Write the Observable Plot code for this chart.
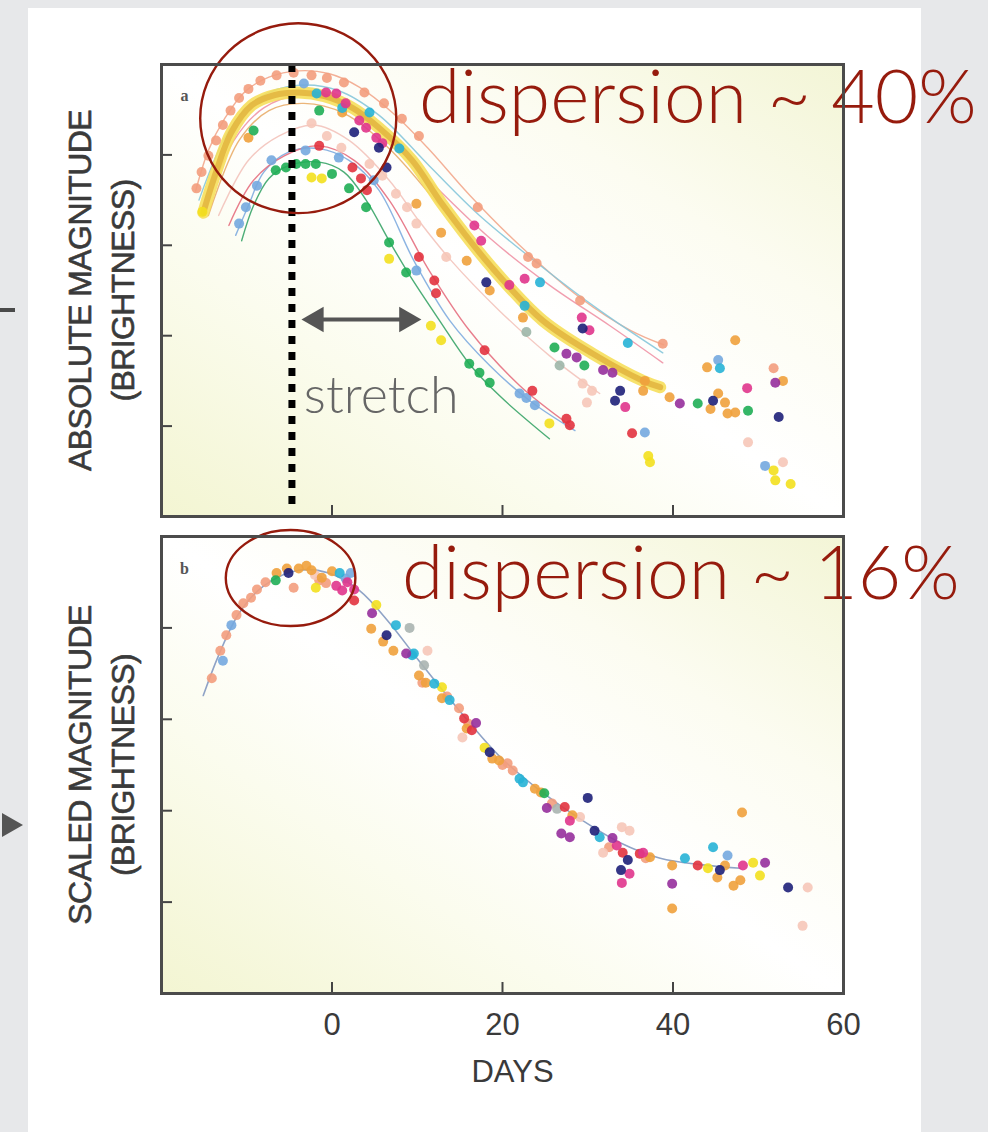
<!DOCTYPE html>
<html><head><meta charset="utf-8">
<script src="https://cdn.jsdelivr.net/npm/d3@7"></script>
<script src="https://cdn.jsdelivr.net/npm/@observablehq/plot@0.6"></script>
<style>
html,body{margin:0;padding:0;}
body{width:988px;height:1132px;background:#e7e8ea;position:relative;overflow:hidden;font-family:"Liberation Sans",Arial,sans-serif;}
#card{position:absolute;left:28px;top:8px;width:893px;height:1124px;background:#fff;}
#pa{position:absolute;left:0;top:0;}
#pb{position:absolute;left:0;top:526px;}
svg{overflow:visible;display:block;}
.dash{position:absolute;left:0;top:308px;width:15px;height:4px;background:#4a4a4a;}
.arrowhead{position:absolute;left:2px;top:813px;width:0;height:0;border-left:21px solid #555;border-top:12px solid transparent;border-bottom:12px solid transparent;}
</style></head><body>
<div id="card"></div><div class="dash"></div><div class="arrowhead"></div>
<div id="pa"></div><div id="pb"></div>
<script>
// ---------- scales / ticks ----------
const xDomain = [-20, 60];
const xTicks = [0, 20, 40, 60];
const yDomain = [-15, -20];           // absolute magnitude, brighter up
const yTicks = [-19, -18, -17, -16];

// ---------- panel a : light curves (fits) [day, magnitude] ----------
const curveSalmon = [[-16.0,-18.6],[-14.5,-19.05],[-12.6,-19.4],[-10.2,-19.7],[-7.4,-19.86],[-3.9,-19.93],[-0.4,-19.9],[3.2,-19.75],[7.3,-19.45],[11.4,-19.06],[16.1,-18.56],[22.0,-18.0],[29.1,-17.42],[35.0,-17.06],[38.9,-16.9]];
const curveCyan = [[-15.6,-18.5],[-12.1,-19.27],[-8.6,-19.63],[-3.9,-19.77],[0.8,-19.71],[5.5,-19.44],[11.4,-18.88],[17.3,-18.33],[24.4,-17.78],[31.4,-17.28],[38.8,-16.81]];
const curvePink = [[-15.1,-18.33],[-11.5,-19.16],[-8.0,-19.52],[-3.9,-19.66],[0.8,-19.6],[5.5,-19.29],[11.4,-18.72],[18.5,-18.08],[25.5,-17.56],[32.6,-17.11],[38.8,-16.7]];
const curveTemplate = [[-15.1,-18.36],[-13.6,-18.81],[-11.8,-19.25],[-9.4,-19.55],[-6.8,-19.66],[-3.9,-19.69],[-0.9,-19.65],[2.4,-19.52],[5.5,-19.3],[9.4,-18.94],[12.9,-18.46],[18.8,-17.75],[24.7,-17.17],[30.6,-16.8],[36.5,-16.5],[38.5,-16.43]];
const curveOrange = [[-14.5,-18.33],[-10.9,-19.16],[-7.4,-19.49],[-3.3,-19.57],[1.4,-19.46],[6.7,-19.07],[12.6,-18.44],[18.5,-17.81],[24.4,-17.22],[31.4,-16.78],[37.3,-16.47]];
const curveLightPink = [[-13.3,-18.33],[-9.8,-18.94],[-6.2,-19.21],[-2.1,-19.33],[2.0,-19.16],[6.7,-18.72],[10.2,-18.27],[13.8,-17.85],[19.6,-17.28],[25.5,-16.78],[31.4,-16.36]];
const curveBlue = [[-11.3,-18.11],[-9.8,-18.44],[-8.0,-18.81],[-5.1,-19.03],[-1.5,-19.07],[2.0,-18.94],[5.5,-18.61],[9.6,-17.83],[13.8,-17.17],[18.5,-16.67],[23.2,-16.28],[28.5,-15.95]];
const curveRed = [[-12.1,-18.22],[-9.2,-18.72],[-5.6,-18.99],[-1.5,-19.1],[2.6,-18.94],[6.7,-18.5],[11.4,-17.72],[16.1,-17.06],[22.0,-16.45],[27.9,-16.01]];
const curveGreen = [[-10.6,-18.05],[-9.2,-18.44],[-7.4,-18.74],[-5.1,-18.88],[-1.5,-18.92],[1.4,-18.81],[4.0,-18.5],[6.7,-18.05],[9.1,-17.67],[12.6,-17.17],[16.1,-16.69],[19.6,-16.34],[25.5,-15.86]];

// ---------- panel a : observations [day, magnitude] ----------
const aSalmon = [[-15.9,-18.63],[-15.3,-18.81],[-14.5,-18.99],[-13.6,-19.16],[-12.8,-19.33],[-11.9,-19.49],[-10.9,-19.63],[-9.8,-19.73],[-8.4,-19.82],[-6.5,-19.88],[-4.5,-19.91],[-2.4,-19.88],[-0.6,-19.85],[1.4,-19.8],[3.8,-19.69],[6.1,-19.57],[8.2,-19.4],[10.2,-19.21],[17.1,-18.42],[23.0,-17.87],[24.0,-17.8],[29.1,-17.39],[38.8,-16.91],[51.8,-16.64]];
const aLightPink = [[-2.4,-19.35],[-0.6,-19.21],[1.1,-19.08],[4.4,-18.9],[5.9,-18.77],[7.5,-18.57],[8.8,-18.42],[9.9,-18.24],[13.4,-17.87],[29.4,-16.47],[30.5,-16.39],[29.9,-16.26],[48.8,-15.82],[52.9,-15.6]];
const aGrayGreen = [[22.8,-17.04],[26.7,-16.67]];
const aYellow = [[-15.2,-18.37],[-2.4,-18.75],[-1.2,-18.74],[6.7,-17.85],[11.6,-17.11],[12.8,-16.95],[25.5,-16.03],[37.1,-15.67],[37.3,-15.6],[51.8,-15.51],[52.0,-15.4],[53.8,-15.36]];
const aOrange = [[-9.8,-19.19],[1.2,-19.47],[9.9,-18.46],[12.8,-18.14],[15.8,-17.83],[18.5,-17.5],[22.4,-17.2],[36.5,-16.39],[36.7,-16.5],[39.6,-16.32],[47.3,-16.95],[45.3,-16.36],[46.1,-16.26],[44.4,-16.19],[46.4,-16.14],[47.3,-16.15],[44.0,-16.65],[52.9,-16.5]];
const aBlue = [[-10.9,-18.24],[-10.1,-18.42],[-8.8,-18.66],[-7.1,-18.94],[-3.1,-19.05],[0.8,-18.97],[4.9,-18.72],[9.9,-17.72],[22.0,-16.36],[22.8,-16.31],[23.8,-16.23],[36.7,-15.93],[50.8,-15.56],[-3.3,-19.79],[45.3,-16.73]];
const aGreen = [[-9.2,-19.27],[-1.5,-19.49],[-6.6,-18.83],[-5.4,-18.86],[-4.2,-18.9],[-3.1,-18.9],[-1.9,-18.9],[0.0,-18.79],[2.0,-18.63],[4.0,-18.42],[6.7,-18.03],[8.7,-17.7],[16.1,-16.69],[17.3,-16.59],[18.5,-16.48],[26.1,-16.87],[29.6,-16.67],[42.9,-16.25],[48.8,-16.17]];
const aCyan = [[-1.8,-19.68],[1.2,-19.52],[4.4,-19.47],[7.9,-19.07],[24.4,-17.59],[22.6,-17.33],[34.7,-16.92],[45.5,-16.64]];
const aRed = [[-1.5,-19.1],[2.4,-18.86],[3.4,-18.74],[4.1,-18.61],[10.2,-17.87],[12.0,-17.61],[12.2,-17.47],[17.9,-16.84],[23.5,-16.39],[27.5,-16.08],[27.9,-16.01],[35.2,-15.92]];
const aMagenta = [[-0.7,-19.69],[0.5,-19.68],[1.6,-19.57],[3.2,-19.38],[4.0,-19.3],[5.2,-19.19],[5.9,-19.13],[16.7,-18.22],[17.5,-18.05],[22.6,-17.63],[20.8,-17.56],[29.3,-17.2],[30.2,-17.06],[34.4,-16.21],[48.7,-16.42]];
const aPurple = [[27.5,-16.8],[28.7,-16.76],[31.8,-16.62],[32.9,-16.59],[40.8,-16.25],[52.0,-16.48]];
const aNavy = [[2.6,-19.25],[5.5,-19.08],[6.4,-18.86],[18.1,-17.59],[29.4,-17.08],[33.8,-16.39],[33.2,-16.28],[44.7,-16.28],[52.4,-16.1]];

// ---------- panel b : scaled template and observations ----------
const bTemplate = [[-15.1,-18.26],[-13.3,-18.7],[-10.9,-19.16],[-8.0,-19.46],[-3.9,-19.63],[-0.4,-19.6],[3.2,-19.41],[6.7,-19.06],[10.2,-18.64],[14.9,-18.1],[19.6,-17.6],[24.4,-17.22],[29.1,-16.91],[33.8,-16.65],[38.5,-16.48],[43.2,-16.41],[47.9,-16.37]];
const bSalmon = [[-14.1,-18.45],[-13.1,-18.75],[-12.4,-18.92],[-11.2,-19.14],[-10.4,-19.27],[-9.5,-19.33],[-8.8,-19.42],[-7.8,-19.5],[-4.5,-19.44],[-1.5,-19.52],[-0.7,-19.49],[13.5,-18.25],[14.9,-18.12],[16.0,-17.95],[20.0,-17.5],[20.6,-17.52],[21.2,-17.44],[25.8,-17.08],[32.5,-16.6],[36.8,-16.48],[10.6,-18.4]];
const bLightPink = [[-2.0,-19.58],[11.2,-18.75],[15.3,-17.8],[29.1,-16.93],[31.8,-16.54],[55.8,-16.16],[55.2,-15.74],[34.0,-16.82],[34.9,-16.78]];
const bGray = [[9.1,-19.0],[10.8,-18.59],[26.4,-17.02]];
const bOrange = [[-6.5,-19.6],[-5.3,-19.65],[-3.9,-19.65],[-3.0,-19.68],[-2.4,-19.63],[-1.2,-19.55],[0.0,-19.62],[4.6,-18.99],[6.0,-18.85],[7.2,-18.75],[10.2,-18.48],[11.0,-18.4],[12.9,-18.23],[15.8,-17.9],[18.8,-17.57],[19.6,-17.55],[23.8,-17.24],[24.5,-17.2],[28.2,-16.95],[37.3,-16.49],[39.9,-16.4],[46.1,-16.4],[45.2,-16.27],[47.1,-16.18],[47.9,-16.24],[48.1,-16.98],[39.9,-15.93]];
const bYellow = [[-1.9,-19.44],[5.2,-19.25],[12.9,-18.35],[17.9,-17.69],[44.1,-16.37],[49.4,-16.43],[50.2,-16.29]];
const bBlue = [[-11.8,-19.03],[-12.8,-18.64],[1.6,-19.54],[2.2,-19.6],[46.4,-16.51]];
const bGreen = [[-6.6,-19.52],[24.9,-17.19]];
const bCyan = [[0.9,-19.6],[7.5,-19.03],[9.4,-18.7],[9.6,-18.72],[12.0,-18.39],[13.8,-18.21],[22.0,-17.35],[22.4,-17.31],[31.4,-16.71],[41.4,-16.48],[44.7,-16.6]];
const bRed = [[2.6,-19.3],[15.5,-18.01],[16.4,-17.88],[27.3,-17.04],[34.1,-16.54],[36.1,-16.53],[42.9,-16.4]];
const bMagenta = [[0.5,-19.46],[1.2,-19.41],[1.8,-19.5],[2.6,-19.42],[27.9,-16.89],[33.4,-16.62],[34.9,-16.31],[34.0,-16.21],[36.5,-16.54],[48.2,-16.4]];
const bPurple = [[4.7,-19.16],[8.7,-18.72],[16.9,-17.96],[25.2,-17.03],[26.9,-16.75],[27.9,-16.71],[32.9,-16.7],[50.8,-16.43],[39.9,-16.2]];
const bNavy = [[-5.1,-19.6],[6.4,-18.92],[18.5,-17.64],[30.0,-17.14],[30.8,-16.78],[34.7,-16.46],[33.9,-16.35],[45.5,-16.35],[53.5,-16.16]];

// ---------- annotations ----------
const peakDay = -4.7;
const peakRuleMag = [-20, -15.09];
const stretchArrow = {from: -3.6, to: 10.5, mag: -17.18};
const textA = [{label: "dispersion ~ 40%", day: 10.2, mag: -19.35}];
const textB = [{label: "dispersion ~ 16%", day: 8.2, mag: -19.32}];
const stretchText = [{label: "stretch", day: -3.3, mag: -16.15}];
const circleA = {day: -3.9, mag: -19.40, rDays: 11.5, rMag: 1.05};
const circleB = {day: -4.8, mag: -19.54, rDays: 7.6, rMag: 0.525};
const yLabelA = "ABSOLUTE MAGNITUDE\n(BRIGHTNESS)";
const yLabelB = "SCALED MAGNITUDE\n(BRIGHTNESS)";
const xLabel = "DAYS";

const palette = {salmon:"#f39d7d", lightpink:"#f6c6b8", graygreen:"#9db6a8", gray:"#aab4b0", orange:"#f0a13c", yellow:"#f3e01e", blue:"#74a9df", green:"#1fae55", cyan:"#27b3d6", red:"#e2333f", magenta:"#e0358c", purple:"#962f9c", navy:"#1e2079"};

const groupsA = [["salmon",aSalmon],["lightpink",aLightPink],["graygreen",aGrayGreen],["yellow",aYellow],["orange",aOrange],["blue",aBlue],["green",aGreen],["cyan",aCyan],["red",aRed],["magenta",aMagenta],["purple",aPurple],["navy",aNavy]];
const groupsB = [["salmon",bSalmon],["lightpink",bLightPink],["gray",bGray],["orange",bOrange],["yellow",bYellow],["blue",bBlue],["green",bGreen],["cyan",bCyan],["red",bRed],["magenta",bMagenta],["purple",bPurple],["navy",bNavy]];
const thinCurves = [[curveSalmon,"#f2a78c"],[curveCyan,"#86c6da"],[curvePink,"#ef94a6"],[curveOrange,"#e9ad6a"],[curveLightPink,"#f3c3bb"],[curveBlue,"#80acdf"],[curveRed,"#e66f7f"],[curveGreen,"#38a468"]];

const SANS = "'Liberation Sans', Arial, Helvetica, sans-serif";
const GILL = "Lato, 'Open Sans', sans-serif";
const DARKRED = "#961b0d";

const X = d => d[0], Y = d => d[1];

function dots(groups) {
  return groups.map(([c, pts]) => Plot.dot(pts, {x: X, y: Y, r: 5, fill: palette[c], fillOpacity: 0.9}));
}
function ellipse(e) {
  return (index, scales) => {
    const cx = scales.x(e.day), cy = scales.y(e.mag);
    const rx = Math.abs(scales.x(e.day + e.rDays) - cx);
    const ry = Math.abs(scales.y(e.mag + e.rMag) - cy);
    const el = document.createElementNS("http://www.w3.org/2000/svg", "ellipse");
    el.setAttribute("cx", cx); el.setAttribute("cy", cy);
    el.setAttribute("rx", rx); el.setAttribute("ry", ry);
    el.setAttribute("fill", "none"); el.setAttribute("stroke", DARKRED);
    el.setAttribute("stroke-width", 2.4);
    return el;
  };
}
function axes(labels) {
  return [
    Plot.axisY(yTicks, {tickSize: -11, tickFormat: () => "", stroke: "#444", strokeWidth: 2, label: null}),
    Plot.axisX(xTicks, {tickSize: -11, tickPadding: 30, tickFormat: labels ? d => String(d) : () => "",
      stroke: "#444", strokeWidth: 2, fill: "#3a3a3a", fontSize: 31, fontFamily: SANS, label: null})
  ];
}
function finish(svg, id) {
  const g = d3.select(svg).insert("defs", ":first-child").append("linearGradient")
    .attr("id", id).attr("x1", 0).attr("y1", 1).attr("x2", 1).attr("y2", 0);
  [[0,"#f3f5d2"],[0.3,"#fbfcee"],[0.5,"#ffffff"],[0.72,"#fcfcf1"],[1,"#f3f5d6"]]
    .forEach(([o,c]) => g.append("stop").attr("offset", o).attr("stop-color", c));
  d3.select(svg).selectAll("text").filter(function(){ return /MAGNITUDE/.test(this.textContent); })
    .style("letter-spacing", "-0.6px");
}
function yLabel(text) {
  return Plot.text([text], {frameAnchor: "left", textAnchor: "middle", lineAnchor: "middle", dx: -63, rotate: -90,
    fontSize: 32, lineHeight: 1.34, fill: "#3a3a3a", stroke: "#3a3a3a", strokeWidth: 0.6, fontFamily: SANS});
}

const common = {
  width: 988, marginLeft: 161, marginRight: 145,
  x: {domain: xDomain}, y: {domain: yDomain},
  style: {background: "transparent", overflow: "visible"}
};

// ---------- panel a ----------
const plotA = Plot.plot({
  ...common, height: 526, marginTop: 64, marginBottom: 10,
  marks: [
    Plot.frame({fill: "url(#bgA)"}),
    ...thinCurves.map(([c, col]) => Plot.line(c, {x: X, y: Y, curve: "catmull-rom", stroke: col, strokeWidth: 1.4, strokeOpacity: 0.9})),
    Plot.line(curveTemplate, {x: X, y: Y, curve: "catmull-rom", stroke: "#f6df5c", strokeWidth: 12, strokeOpacity: 0.9}),
    Plot.line(curveTemplate, {x: X, y: Y, curve: "catmull-rom", stroke: "#e2b43e", strokeWidth: 6, strokeOpacity: 0.85}),
    ...dots(groupsA),
    Plot.ruleX([peakDay], {y1: peakRuleMag[0], y2: peakRuleMag[1], stroke: "#000", strokeWidth: 7, strokeDasharray: "8,8"}),
    Plot.link([stretchArrow], {x1: d => d.from + 0.6, x2: d => d.to - 0.6, y1: "mag", y2: "mag", stroke: "#555", strokeWidth: 4}),
    Plot.dot([stretchArrow], {x: d => d.to - 1.75, y: "mag", symbol: "triangle", rotate: 90, r: 9.5, fill: "#555"}),
    Plot.dot([stretchArrow], {x: d => d.from + 1.75, y: "mag", symbol: "triangle", rotate: -90, r: 9.5, fill: "#555"}),
    Plot.text(stretchText, {x: "day", y: "mag", text: "label", textAnchor: "start", lineAnchor: "bottom", fontSize: 52, fontFamily: GILL, fontWeight: 300, fill: "#666"}),
    Plot.text(textA, {x: "day", y: "mag", text: "label", textAnchor: "start", lineAnchor: "bottom", fontSize: 75, fontFamily: GILL, fontWeight: 300, fill: DARKRED}),
    ellipse(circleA),
    Plot.text(["a"], {frameAnchor: "top-left", textAnchor: "middle", lineAnchor: "middle", dx: 23, dy: 31, fontFamily: "'Liberation Serif', serif", fontWeight: "bold", fontSize: 16, fill: "#555"}),
    yLabel(yLabelA),
    ...axes(false),
    Plot.frame({stroke: "#4b4b4b", strokeWidth: 3})
  ]
});
finish(plotA, "bgA");
document.getElementById("pa").append(plotA);

// ---------- panel b ----------
const plotB = Plot.plot({
  ...common, height: 606, marginTop: 10, marginBottom: 139,
  marks: [
    Plot.frame({fill: "url(#bgB)"}),
    Plot.line(bTemplate, {x: X, y: Y, curve: "catmull-rom", stroke: "#8fa3c6", strokeWidth: 1.6}),
    ...dots(groupsB),
    Plot.text(textB, {x: "day", y: "mag", text: "label", textAnchor: "start", lineAnchor: "bottom", fontSize: 75, fontFamily: GILL, fontWeight: 300, fill: DARKRED}),
    ellipse(circleB),
    Plot.text(["b"], {frameAnchor: "top-left", textAnchor: "middle", lineAnchor: "middle", dx: 23, dy: 32, fontFamily: "'Liberation Serif', serif", fontWeight: "bold", fontSize: 16, fill: "#555"}),
    yLabel(yLabelB),
    Plot.text([xLabel], {frameAnchor: "bottom", textAnchor: "middle", lineAnchor: "middle", dx: 10, dy: 79, fontSize: 31, fill: "#3a3a3a", fontFamily: SANS}),
    ...axes(true),
    Plot.frame({stroke: "#4b4b4b", strokeWidth: 3})
  ]
});
finish(plotB, "bgB");
document.getElementById("pb").append(plotB);
</script>
</body></html>
